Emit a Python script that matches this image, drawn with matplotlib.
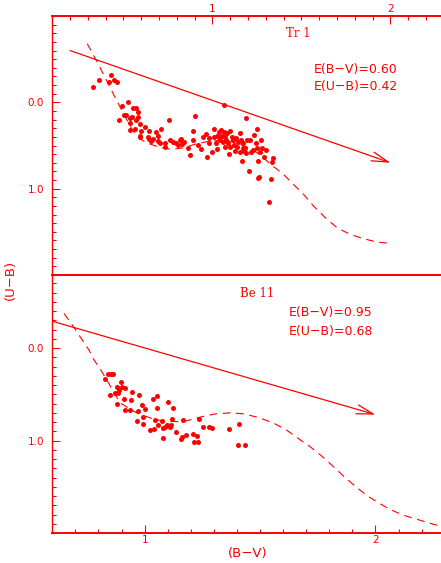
import numpy as np
import matplotlib
matplotlib.use('Agg')
from matplotlib import pyplot as plt
from matplotlib.ticker import FixedLocator, MultipleLocator, FixedFormatter

RED = '#ff0000'

# Tr 1 : observed stars
tr1_bv = [0.328, 0.363, 0.418, 0.429, 0.444, 0.461, 0.528, 0.489, 0.472, 0.502,
          0.513, 0.551, 0.573, 0.582, 0.547, 0.539, 0.571, 0.584, 0.539, 0.592,
          0.562, 0.539, 0.601, 0.594, 0.590, 0.620, 0.646, 0.637, 0.644, 0.657,
          0.663, 0.685, 0.693, 0.708, 0.695, 0.706, 0.732, 0.734, 0.758, 0.762,
          0.779, 0.796, 0.807, 0.815, 0.822, 0.830, 0.841, 0.860, 0.876, 0.890,
          0.890, 0.904, 0.916, 0.938, 0.948, 0.961, 0.970, 0.978, 0.981, 0.998,
          1.009, 1.009, 1.017, 1.024, 1.028, 1.036, 1.037, 1.043, 1.049, 1.054,
          1.058, 1.062, 1.067, 1.069, 1.073, 1.077, 1.082, 1.088, 1.094, 1.099,
          1.101, 1.107, 1.114, 1.120, 1.125, 1.133, 1.139, 1.144, 1.152, 1.157,
          1.161, 1.167, 1.169, 1.172, 1.178, 1.184, 1.189, 1.191, 1.195, 1.206,
          1.213, 1.219, 1.228, 1.234, 1.242, 1.249, 1.249, 1.255, 1.260, 1.258,
          1.268, 1.272, 1.277, 1.288, 1.298, 1.330, 1.335, 1.341, 1.316]
tr1_ub = [-0.177, -0.258, -0.238, -0.315, -0.258, -0.235, -0.008, 0.046, 0.208, 0.150,
          0.150, 0.065, 0.065, 0.112, 0.165, 0.185, 0.208, 0.173, 0.242, 0.246,
          0.304, 0.315, 0.331, 0.404, 0.385, 0.281, 0.331, 0.396, 0.427, 0.446,
          0.419, 0.338, 0.388, 0.308, 0.450, 0.473, 0.473, 0.519, 0.208, 0.442,
          0.458, 0.473, 0.492, 0.442, 0.423, 0.481, 0.458, 0.531, 0.615, 0.331,
          0.435, 0.162, 0.492, 0.538, 0.404, 0.369, 0.638, 0.473, 0.415, 0.573,
          0.304, 0.404, 0.473, 0.385, 0.542, 0.338, 0.404, 0.438, 0.319, 0.388,
          0.465, 0.338, 0.027, 0.404, 0.512, 0.435, 0.358, 0.473, 0.600, 0.331,
          0.512, 0.396, 0.435, 0.496, 0.565, 0.415, 0.512, 0.454, 0.358, 0.581,
          0.435, 0.685, 0.527, 0.473, 0.565, 0.531, 0.185, 0.588, 0.435, 0.796,
          0.435, 0.573, 0.550, 0.377, 0.473, 0.304, 0.531, 0.873, 0.862, 0.685,
          0.577, 0.431, 0.531, 0.638, 0.550, 0.892, 0.692, 0.646, 1.158]

# Tr 1 : reddened intrinsic sequence and reddening vector
tr1_seq_bv = [0.296, 0.352, 0.418, 0.465, 0.51, 0.55, 0.59, 0.63, 0.70, 0.77,
              0.84, 0.91, 0.97, 1.04, 1.10, 1.16, 1.23, 1.29, 1.34, 1.391,
              1.457, 1.513, 1.569, 1.635, 1.70, 1.775, 1.85, 1.925, 2.0]
tr1_seq_ub = [-0.68, -0.468, -0.20, -0.008, 0.17, 0.32, 0.42, 0.47, 0.52, 0.545,
              0.525, 0.48, 0.455, 0.44, 0.45, 0.49, 0.55, 0.65, 0.74, 0.819,
              0.954, 1.069, 1.204, 1.338, 1.453, 1.531, 1.58, 1.619, 1.634]
tr1_vec = [(0.2, -0.60), (2.0, 0.70)]

# Be 11 : observed stars
be11_bv = [0.828, 0.841, 0.853, 0.864, 0.848, 0.882, 0.879, 0.873, 0.885, 0.887,
           0.899, 0.903, 0.913, 0.911, 0.915, 0.939, 0.937, 0.947, 0.968, 0.973,
           0.977, 0.987, 0.993, 0.994, 1.000, 1.022, 1.036, 1.039, 1.043, 1.052,
           1.055, 1.056, 1.081, 1.078, 1.075, 1.087, 1.098, 1.101, 1.108, 1.113,
           1.118, 1.124, 1.136, 1.157, 1.163, 1.167, 1.180, 1.209, 1.214, 1.229,
           1.232, 1.235, 1.253, 1.280, 1.293, 1.367, 1.410, 1.405, 1.433]
be11_ub = [0.331, 0.281, 0.281, 0.281, 0.511, 0.604, 0.424, 0.482, 0.489, 0.453,
           0.371, 0.424, 0.432, 0.547, 0.669, 0.561, 0.669, 0.475, 0.791, 0.676,
           0.507, 0.612, 0.748, 0.820, 0.655, 0.885, 0.554, 0.878, 0.777, 0.518,
           0.644, 0.831, 0.975, 0.863, 0.784, 0.856, 0.827, 0.583, 0.856, 0.831,
           0.763, 0.644, 0.910, 0.986, 0.957, 0.777, 0.935, 0.928, 1.014, 0.950,
           1.014, 0.770, 0.856, 0.849, 0.867, 0.871, 0.817, 1.043, 1.043]

be11_seq_bv = [0.651, 0.687, 0.759, 0.781, 0.81, 0.853, 0.882, 0.896, 0.968, 1.04,
               1.098, 1.17, 1.25, 1.307, 1.372, 1.43, 1.495, 1.56, 1.618, 1.668,
               1.719, 1.769, 1.82, 1.863, 1.913, 1.964, 2.014, 2.065, 2.123, 2.18,
               2.252, 2.27]
be11_seq_ub = [-0.374, -0.248, 0.022, 0.129, 0.237, 0.417, 0.543, 0.597, 0.705, 0.77,
               0.795, 0.795, 0.741, 0.712, 0.700, 0.712, 0.752, 0.813, 0.892, 0.982,
               1.071, 1.172, 1.287, 1.388, 1.496, 1.597, 1.675, 1.748, 1.809, 1.852,
               1.906, 1.917]
be11_vec = [(0.6, -0.29), (2.0, 0.72)]

panels = [
    dict(name='Tr 1', bv=tr1_bv, ub=tr1_ub, sbv=tr1_seq_bv, sub=tr1_seq_ub, vec=tr1_vec,
         ebv='E(B\u2212V)=0.60', eub='E(U\u2212B)=0.42', xlim=(0.1, 2.284), ylim=(2.0, -1.0),
         name_pos=(1.483, -0.80), e_pos=(1.567, -0.384, -0.188), top=True),
    dict(name='Be 11', bv=be11_bv, ub=be11_ub, sbv=be11_seq_bv, sub=be11_seq_ub, vec=be11_vec,
         ebv='E(B\u2212V)=0.95', eub='E(U\u2212B)=0.68', xlim=(0.6, 2.284), ylim=(2.0, -0.79),
         name_pos=(1.489, -0.593), e_pos=(1.623, -0.388, -0.183), top=False),
]

W, H = 441, 563
fig = plt.figure(figsize=(W / 100, H / 100), dpi=100)
left = 52.3 / W
boxes = [(left, 1 - 275 / H, 1 - left, 259 / H),
         (left, 1 - 533 / H, 1 - left, 258 / H)]

for p, box in zip(panels, boxes):
    ax = fig.add_axes(box)
    ax.set_xlim(*p['xlim'])
    ax.set_ylim(*p['ylim'])

    ax.plot(p['bv'], p['ub'], 'o', color=RED, ms=3.6, mew=0)
    ax.plot(p['sbv'], p['sub'], color=RED, lw=0.8, dashes=(7, 5))
    (x0, y0), (x1, y1) = p['vec']
    ax.annotate('', xy=(x1, y1), xytext=(x0, y0),
                arrowprops=dict(arrowstyle='->,head_length=1.2,head_width=0.33',
                                color=RED, lw=0.9, shrinkA=0, shrinkB=0, mutation_scale=10))

    ax.text(p['name_pos'][0], p['name_pos'][1], p['name'], color=RED, fontsize=8.5,
            family='DejaVu Serif', ha='center', va='center')
    ex, ey1, ey2 = p['e_pos']
    ax.text(ex, ey1, p['ebv'], color=RED, fontsize=9, ha='left', va='center')
    ax.text(ex, ey2, p['eub'], color=RED, fontsize=9, ha='left', va='center')

    for s in ax.spines.values():
        s.set_color(RED)
    ax.spines['right'].set_visible(False)
    ax.spines['left'].set_linewidth(1.0)
    ax.spines['top'].set_linewidth(1.4)
    ax.spines['bottom'].set_linewidth(1.4)

    ax.xaxis.set_major_locator(FixedLocator([1, 2]))
    ax.xaxis.set_major_formatter(FixedFormatter(['1', '2']))
    ax.xaxis.set_minor_locator(MultipleLocator(0.1))
    ax.yaxis.set_major_locator(FixedLocator([0, 1]))
    ax.yaxis.set_major_formatter(FixedFormatter(['0.0', '1.0']))
    ax.yaxis.set_minor_locator(MultipleLocator(0.1))

    if p['top']:
        ax.tick_params(axis='x', which='both', top=True, bottom=False,
                       labeltop=True, labelbottom=False)
    else:
        ax.tick_params(axis='x', which='both', top=False, bottom=True,
                       labeltop=False, labelbottom=True)
    ax.tick_params(axis='both', which='both', direction='in', color=RED,
                   labelcolor=RED, labelsize=7.5, width=0.8)
    ax.tick_params(axis='both', which='major', length=5.5)
    ax.tick_params(axis='both', which='minor', length=3)
    ax.tick_params(axis='x', which='major', pad=1.5)
    ax.tick_params(axis='y', which='both', right=False, pad=6)
    ax.set_facecolor('none')

fig.text(10 / W, 1 - 280 / H, '(U\u2212B)', color=RED, fontsize=9.5, rotation=90,
         ha='center', va='center')
fig.text(248 / W, 1 - 553 / H, '(B\u2212V)', color=RED, fontsize=9.5,
         ha='center', va='center')

fig.savefig('out.png', dpi=100, facecolor='white')
